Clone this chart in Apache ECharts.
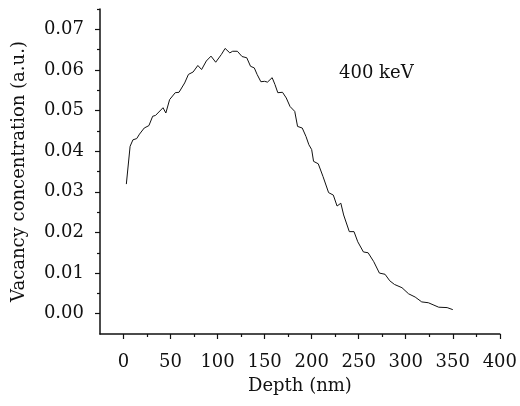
<!DOCTYPE html>
<html>
<head>
<meta charset="utf-8">
<script src="https://cdn.jsdelivr.net/npm/echarts@6/dist/echarts.min.js"></script>
<style>
  html, body { margin: 0; padding: 0; background: #fff; }
  #chart { width: 520px; height: 406px; }
</style>
</head>
<body>
<div id="chart"></div>
<script>
// depth (nm) and vacancy concentration
const depth = [3, 7, 10, 14, 17, 22, 27, 31, 34, 42, 45, 49, 55, 59, 65, 69, 74, 79, 83, 88,
  93, 98, 104, 108, 113, 116, 121, 126, 131, 135, 139, 142, 146, 150, 153, 158, 161, 164, 169, 173,
  177, 182, 185, 190, 194, 197, 200, 202, 207, 212, 218, 223, 227, 231, 234, 240, 245, 249, 255, 260,
  266, 272, 278, 283, 288, 296, 303, 310, 317, 324, 329, 335, 344, 350]
const vacancy = [0.0319, 0.0412, 0.0428, 0.0431, 0.0442, 0.0457, 0.0463, 0.0486, 0.0488, 0.0507,
  0.0494, 0.0527, 0.0544, 0.0545, 0.0568, 0.0589, 0.0595, 0.0611, 0.0601, 0.0622,
  0.0634, 0.0619, 0.0638, 0.0653, 0.0642, 0.0646, 0.0646, 0.0633, 0.0630, 0.0609,
  0.0605, 0.0589, 0.0571, 0.0572, 0.0570, 0.0581, 0.0564, 0.0544, 0.0545, 0.0531,
  0.0510, 0.0498, 0.0461, 0.0457, 0.0436, 0.0416, 0.0404, 0.0375, 0.0369, 0.0338,
  0.0298, 0.0292, 0.0265, 0.0272, 0.0243, 0.0202, 0.0202, 0.0177, 0.0152, 0.0150,
  0.0128, 0.0100, 0.0097, 0.0081, 0.0072, 0.0064, 0.0049, 0.0041, 0.0029, 0.0027,
  0.0022, 0.0016, 0.0015, 0.0010]

const xTicks = [0, 50, 100, 150, 200, 250, 300, 350, 400]
const xMinorTicks = [25, 75, 125, 175, 225, 275, 325, 375]
const yTicks = [0, 0.01, 0.02, 0.03, 0.04, 0.05, 0.06, 0.07]
const yMinorTicks = [0.005, 0.015, 0.025, 0.035, 0.045, 0.055, 0.065, 0.075]

const font = 'DejaVu Serif'
const ink = '#111'

const chart = echarts.init(document.getElementById('chart'))

const baseX = {
  type: 'value',
  min: -25,
  max: 400,
  position: 'bottom',
  splitLine: { show: false }
}
const baseY = {
  type: 'value',
  min: -0.005,
  max: 0.075,
  position: 'left',
  splitLine: { show: false }
}

chart.setOption({
  animation: false,
  grid: { left: 100, right: 20, top: 9, bottom: 72 },
  xAxis: [
    Object.assign({}, baseX, {
      name: 'Depth (nm)',
      nameLocation: 'middle',
      nameGap: 43,
      nameTextStyle: { fontFamily: font, fontSize: 18, color: ink },
      axisLine: { onZero: false, lineStyle: { color: ink, width: 1.5 } },
      axisTick: { customValues: xTicks, length: 5, lineStyle: { color: ink, width: 1.2 } },
      axisLabel: { customValues: xTicks, margin: 19, fontFamily: font, fontSize: 18, color: ink }
    }),
    Object.assign({}, baseX, {
      axisLine: { show: false, onZero: false },
      axisTick: { customValues: xMinorTicks, length: 3, lineStyle: { color: ink, width: 1.2 } },
      axisLabel: { show: false }
    })
  ],
  yAxis: [
    Object.assign({}, baseY, {
      name: 'Vacancy concentration (a.u.)',
      nameLocation: 'middle',
      nameGap: 72,
      nameTextStyle: { fontFamily: font, fontSize: 18, color: ink },
      axisLine: { show: true, onZero: false, lineStyle: { color: ink, width: 1.5 } },
      axisTick: { show: true, customValues: yTicks, length: 5, lineStyle: { color: ink, width: 1.2 } },
      axisLabel: {
        customValues: yTicks,
        margin: 16,
        fontFamily: font,
        fontSize: 18,
        color: ink,
        formatter: v => v.toFixed(2)
      }
    }),
    Object.assign({}, baseY, {
      axisLine: { show: false, onZero: false },
      axisTick: { show: true, customValues: yMinorTicks, length: 3, lineStyle: { color: ink, width: 1.2 } },
      axisLabel: { show: false }
    })
  ],
  graphic: [{
    type: 'text',
    left: 339,
    top: 64,
    style: { text: '400 keV', font: '18px "DejaVu Serif"', fill: ink }
  }],
  series: [{
    type: 'line',
    xAxisIndex: 0,
    yAxisIndex: 0,
    data: depth.map((d, i) => [d, vacancy[i]]),
    showSymbol: false,
    lineStyle: { color: '#111', width: 1 }
  }]
})
</script>
</body>
</html>
